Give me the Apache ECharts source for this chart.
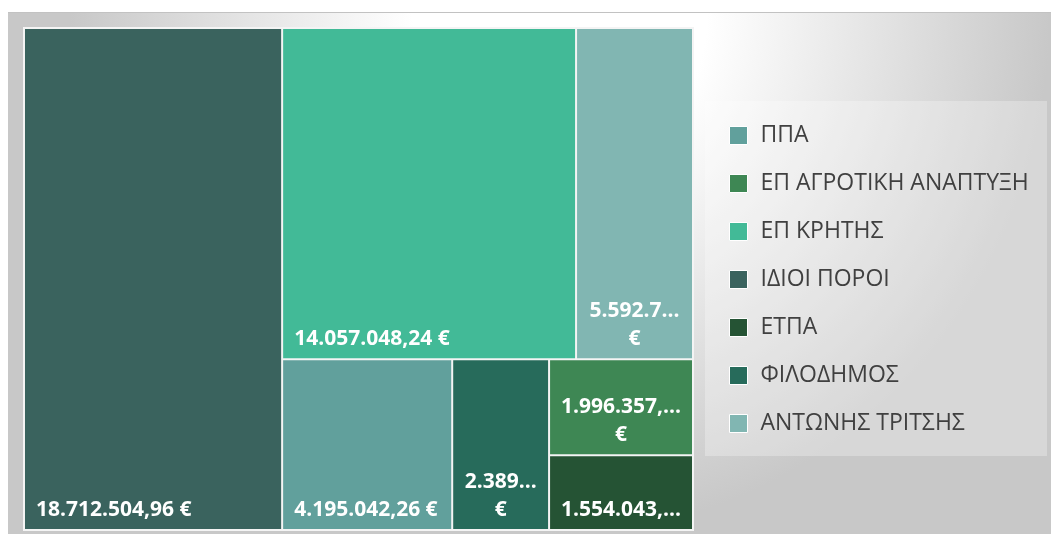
<!DOCTYPE html>
<html>
<head>
<meta charset="utf-8">
<script src="https://cdn.jsdelivr.net/npm/echarts@6/dist/echarts.min.js"></script>
<style>
html,body{margin:0;padding:0;background:#fff;}
#frame{position:absolute;left:8px;top:12px;width:1043px;height:522px;border-top:1px solid #c2c2c2;box-sizing:border-box;
  background:radial-gradient(ellipse 490px 520px at 552px 0px,#ffffff 30%,#c8c8c8 100%);}
#chart{position:absolute;left:0;top:0;width:1051px;height:534px;}
</style>
</head>
<body>
<div id="frame"></div>
<div id="chart"></div>
<script>
// legend order
var names = ['ΠΠΑ','ΕΠ ΑΓΡΟΤΙΚΗ ΑΝΑΠΤΥΞΗ','ΕΠ ΚΡΗΤΗΣ','ΙΔΙΟΙ ΠΟΡΟΙ','ΕΤΠΑ','ΦΙΛΟΔΗΜΟΣ','ΑΝΤΩΝΗΣ ΤΡΙΤΣΗΣ'];
var amounts = [4195042.26, 1996357.48, 14057048.24, 18712504.96, 1554043.17, 2389412.35, 5592745.31];
var palette = ['#61a09c','#3e8754','#42ba97','#3a635e','#255334','#276b5b','#81b6b2'];
// labels that wrap the € onto a second line / stay on one centred line
var wrapped = ['ΑΝΤΩΝΗΣ ΤΡΙΤΣΗΣ','ΦΙΛΟΔΗΜΟΣ','ΕΠ ΑΓΡΟΤΙΚΗ ΑΝΑΠΤΥΞΗ'];
var centred = ['ΕΤΠΑ'];

var font = "'Segoe UI','Open Sans','Noto Sans',sans-serif";

function fmt(v){
  var p = v.toFixed(2).split('.');
  return p[0].replace(/\B(?=(\d{3})+(?!\d))/g,'.') + ',' + p[1];
}

function leaf(name){
  var i = names.indexOf(name);
  var item = {
    name: name,
    value: amounts[i],
    itemStyle: {color: palette[i], borderWidth: 1, borderColor: '#f4f4f4'}
  };
  if(wrapped.indexOf(name) >= 0){
    item.label = {position: 'insideBottom', padding: [0, 9, 5, 9],
      formatter: function(p){ return fmt(p.value) + '\n€'; }};
  }else if(centred.indexOf(name) >= 0){
    item.label = {position: 'insideBottom', padding: [0, 9, 5, 9],
      formatter: function(p){ return fmt(p.value); }};
  }
  return item;
}
function group(children){
  return {name: '', children: children, itemStyle: {borderWidth: 0, gapWidth: 0}};
}

// nesting follows the reference layout
var tree = [
  leaf('ΙΔΙΟΙ ΠΟΡΟΙ'),
  group([
    group([leaf('ΕΠ ΚΡΗΤΗΣ'), leaf('ΑΝΤΩΝΗΣ ΤΡΙΤΣΗΣ')]),
    group([leaf('ΠΠΑ'), leaf('ΦΙΛΟΔΗΜΟΣ'), group([leaf('ΕΠ ΑΓΡΟΤΙΚΗ ΑΝΑΠΤΥΞΗ'), leaf('ΕΤΠΑ')])])
  ])
];

var chart = echarts.init(document.getElementById('chart'));
var option = {
  animation: false,
  graphic: [{
    type: 'rect', left: 705, top: 101, z: -1,
    shape: {width: 342, height: 355},
    style: {fill: 'rgba(255,255,255,0.28)'}
  }],
  legend: {
    orient: 'vertical',
    left: 729, top: 124,
    padding: 0,
    itemWidth: 18, itemHeight: 18, itemGap: 25,
    icon: 'rect',
    itemStyle: {borderColor: '#fff', borderWidth: 1},
    textStyle: {fontFamily: font, fontSize: 23, color: '#404040', padding: [0,0,0,8]},
    data: names
  },
  series: [{
    type: 'treemap',
    left: 23, top: 27, width: 671, height: 504,
    sort: false,
    squareRatio: 1,
    roam: false,
    nodeClick: false,
    breadcrumb: {show: false},
    itemStyle: {borderWidth: 1, borderColor: '#f4f4f4', gapWidth: 0},
    label: {
      show: true,
      position: 'insideBottomLeft',
      color: '#fff',
      fontFamily: font,
      fontSize: 21,
      fontWeight: 'bold',
      lineHeight: 28,
      padding: [0, 10, 5, 11],
      formatter: function(p){ return fmt(p.value) + ' €'; }
    },
    emphasis: {disabled: true},
    data: tree
  }, {
    type: 'pie',
    radius: [0, 0],
    center: [-100, -100],
    stillShowZeroSum: false,
    silent: true,
    label: {show: false},
    data: names.map(function(n, i){ return {name: n, value: 0, itemStyle: {color: palette[i]}}; })
  }]
};
chart.setOption(option);
</script>
</body>
</html>
